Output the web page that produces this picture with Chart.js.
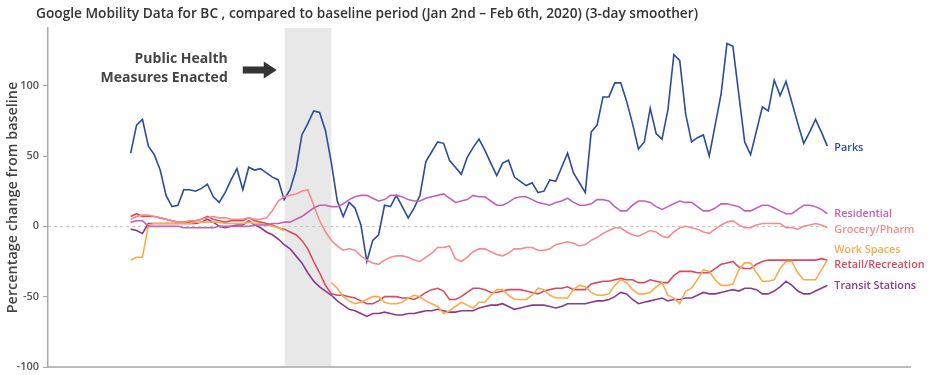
<!DOCTYPE html>
<html>
<head>
<meta charset="utf-8">
<script src="https://cdn.jsdelivr.net/npm/chart.js@4.4.1/dist/chart.umd.min.js"></script>
<style>
html, body { margin: 0; padding: 0; background: #fff; }
#wrap { width: 928px; height: 375px; }
</style>
</head>
<body>
<div id="wrap"><canvas id="chart" width="928" height="375"></canvas></div>
<script>
// daily values from Feb 15 2020 onward (3-day smoothed), % change from baseline
var startDate = "2020-02-15";
var seriesNames = ["Parks", "Residential", "Grocery/Pharm", "Work Spaces", "Retail/Recreation", "Transit Stations"];

var parks = [52,72,76,57,51,40,22,14,15,26, 26,25,27,30,21,17,24,33,41,26,
    42,40,41,38,35,33,19,26,40,65, 73,82,81,68,45,18,7,17,13,1,
    -25,-10,-6,15,14,22,14,6,13,22, 46,53,60,59,47,42,37,49,56,62,
    54,45,36,45,47,35,32,29,31,24, 25,33,32,42,52,38,31,24,67,72,
    92,92,102,102,89,73,55,60,84,66, 62,83,122,118,80,60,63,65,50,72,
    94,130,128,94,60,51,68,85,82,104, 93,103,88,73,59,67,76,67,57];

var residential = [3,4,4,0,0,0,0,0,0,-1, -1,-1,-1,-1,-1,0,0,0,0,0,
    0,1,1,1,2,2,3,3,5,7, 10,13,15,15,14,14,16,19,21,22,
    22,20,18,19,22,22,21,19,18,18, 20,21,22,23,20,17,18,19,22,21,
    21,18,15,15,17,20,21,21,19,17, 16,15,17,18,20,17,15,15,16,19,
    19,18,14,11,11,15,18,18,17,14, 12,14,16,18,17,17,14,11,11,13,
    16,16,15,14,11,11,13,15,15,13, 11,9,9,12,15,15,14,12,9];

var grocery = [5,7,8,8,7,6,5,4,3,3, 4,4,5,6,7,6,6,5,5,5,
    6,5,5,6,11,18,21,22,23,25, 26,15,4,-4,-10,-14,-17,-16,-17,-21,
    -24,-26,-27,-24,-22,-21,-21,-22,-24,-25, -22,-19,-15,-15,-14,-23,-25,-22,-18,-16,
    -16,-18,-20,-21,-19,-16,-16,-15,-15,-17, -17,-16,-13,-12,-11,-12,-14,-13,-10,-8,
    -5,-3,-1,-1,-4,-6,-7,-5,-3,-4, -7,-8,-4,-1,0,-1,-2,-4,-5,-2,
    1,3,4,1,-1,-1,1,2,2,2, 2,-1,-1,-2,0,1,2,1,-1];

var workSpaces = [-24,-22,-22,1,2,2,2,2,2,2, 2,3,3,3,3,3,2,2,2,2,
    3,2,2,1,0,-1,-3,null,null,null, null,null,null,null,-40,-44,-50,-53,-55,-54,
    -52,-50,-50,-54,-55,-55,-54,-51,-49,-50, -53,-55,-57,-62,-60,-57,-54,-56,-58,-54,
    -54,-49,-45,-45,-49,-52,-52,-52,-49,-44, -45,-49,-51,-51,-51,-45,-42,-43,-47,-49,
    -49,-48,-42,-38,-40,-45,-48,-48,-47,-43, -40,-49,-51,-55,-46,-44,-38,-31,-32,-38,
    -42,-42,-41,-31,-26,-26,-33,-39,-39,-38, -30,-25,-25,-33,-38,-38,-38,-31,-24];

var retail = [7,9,7,7,7,6,5,4,3,3, 3,4,5,7,5,4,3,4,4,4,
    6,4,3,2,1,-1,-2,-4,-6,-10, -16,-25,-33,-42,-48,-49,-49,-50,-51,-53,
    -55,-55,-53,-50,-50,-50,-51,-51,-52,-50, -47,-45,-44,-46,-52,-52,-50,-47,-44,-44,
    -45,-47,-47,-46,-45,-45,-45,-46,-47,-48, -46,-45,-44,-44,-43,-45,-45,-45,-41,-40,
    -39,-39,-38,-37,-38,-38,-40,-40,-38,-39, -40,-40,-35,-32,-32,-32,-33,-33,-33,-30,
    -27,-26,-25,-29,-30,-30,-27,-25,-24,-24, -24,-24,-24,-24,-24,-24,-24,-23,-24];

var transit = [-2,-3,-5,2,2,2,2,2,2,2, 2,2,3,5,3,0,-1,0,1,1,
    4,1,-1,-4,-6,-9,-13,-16,-21,-26, -33,-39,-43,-46,-49,-53,-56,-59,-60,-62,
    -64,-62,-62,-61,-62,-63,-63,-62,-62,-61, -60,-60,-59,-60,-61,-61,-60,-60,-60,-58,
    -57,-56,-56,-55,-57,-59,-58,-57,-56,-56, -56,-57,-58,-57,-55,-55,-55,-55,-54,-53,
    -53,-52,-50,-47,-48,-52,-55,-54,-53,-52, -51,-53,-52,-52,-51,-51,-49,-47,-48,-48,
    -47,-46,-45,-46,-44,-44,-45,-48,-48,-46, -43,-39,-42,-46,-48,-48,-46,-44,-42];

var yTicks = [-100, -50, 0, 50, 100];
// public health measures period, in days from start
var bandStart = 26.1, bandEnd = 34;

var allSeries = [parks, residential, grocery, workSpaces, retail, transit];
var colors = ["#2b4c9c", "#c462b7", "#f58b8c", "#fbab4a", "#d84a5f", "#8a3a8b"];
var labelShift = [2, 0, 2, -10, 5, 0];

var dates = [];
var d0 = new Date(startDate + "T00:00:00");
for (var i = 0; i < parks.length; i++) {
    var d = new Date(d0.getTime() + i * 86400000);
    dates.push(d.toISOString().slice(0, 10));
}

var datasets = [];
allSeries.forEach(function(values, k){
    datasets.push({
        label: seriesNames[k],
        data: values.map(function(v, i){ return {x: i, y: v}; }),
        borderColor: colors[k],
        borderWidth: 1.6,
        pointRadius: 0,
        tension: 0,
        spanGaps: false,
        fill: false
    });
});
// parks on top
datasets.push(datasets.shift());

var extras = {
    id: "extras",
    beforeDraw: function(chart){
        var ctx = chart.ctx, a = chart.chartArea;
        var x = chart.scales.x, y = chart.scales.y;
        ctx.save();
        ctx.fillStyle = "#e8e8e8";
        var x1 = x.getPixelForValue(bandStart), x2 = x.getPixelForValue(bandEnd);
        ctx.fillRect(x1, a.top, x2 - x1, a.bottom - a.top);
        // zero line
        ctx.strokeStyle = "#c8c8c8";
        ctx.lineWidth = 1;
        ctx.setLineDash([3, 3]);
        var y0 = Math.round(y.getPixelForValue(0)) + 0.5;
        ctx.beginPath();
        ctx.moveTo(a.left, y0);
        ctx.lineTo(x.getPixelForValue(parks.length - 1), y0);
        ctx.stroke();
        ctx.restore();
    },
    afterDatasetsDraw: function(chart){
        var ctx = chart.ctx;
        ctx.save();
        ctx.font = "600 10.8px 'Open Sans'";
        ctx.textBaseline = "middle";
        ctx.textAlign = "left";
        chart.data.datasets.forEach(function(ds, k){
            var meta = chart.getDatasetMeta(k);
            var idx = seriesNames.indexOf(ds.label);
            var last = meta.data[meta.data.length - 1];
            ctx.fillStyle = colors[idx];
            ctx.fillText(ds.label, last.x + 7, last.y + labelShift[idx]);
        });
        ctx.restore();
    },
    afterDraw: function(chart){
        var ctx = chart.ctx;
        var bx = chart.scales.x.getPixelForValue(bandStart);
        ctx.save();
        ctx.fillStyle = "#333";
        ctx.font = "600 13.7px 'Open Sans'";
        ctx.textBaseline = "middle";
        ctx.textAlign = "left";
        ctx.fillText("Google Mobility Data for BC , compared to baseline period (Jan 2nd \u2013 Feb 6th, 2020) (3-day smoother)", 36, 14);

        ctx.fillStyle = "#444";
        ctx.font = "700 14px 'Open Sans'";
        ctx.textAlign = "right";
        ctx.fillText("Public Health", bx - 57, 59);
        ctx.fillText("Measures Enacted", bx - 57, 78);

        // arrow
        var tip = bx - 8, cy = 70;
        ctx.fillStyle = "#333";
        ctx.beginPath();
        ctx.moveTo(tip - 34, cy - 3.5);
        ctx.lineTo(tip - 13, cy - 3.5);
        ctx.lineTo(tip - 13, cy - 8.5);
        ctx.lineTo(tip, cy);
        ctx.lineTo(tip - 13, cy + 8.5);
        ctx.lineTo(tip - 13, cy + 3.5);
        ctx.lineTo(tip - 34, cy + 3.5);
        ctx.closePath();
        ctx.fill();
        ctx.restore();
    }
};

var ctx = document.getElementById("chart").getContext("2d");
var chart = new Chart(ctx, {
    type: "line",
    data: { labels: dates, datasets: datasets },
    options: {
        responsive: false,
        animation: false,
        devicePixelRatio: 1,
        layout: { padding: { top: 28, right: 18, left: 0, bottom: 0 } },
        plugins: {
            legend: { display: false },
            tooltip: { enabled: false },
            title: { display: false }
        },
        scales: {
            x: {
                type: "linear",
                min: -14,
                max: 132,
                ticks: { display: false },
                grid: { display: false },
                border: { color: "#bbb", width: 2 },
                afterFit: function(s){ s.height = 8; s.paddingLeft = 0; s.paddingRight = 0; }
            },
            y: {
                min: -100,
                max: 141,
                afterBuildTicks: function(s){
                    s.ticks = yTicks.map(function(v){ return {value: v}; });
                },
                ticks: {
                    color: "#555",
                    font: { family: "Open Sans", size: 11, weight: "600" },
                    padding: 4
                },
                grid: { drawOnChartArea: false, drawTicks: true, tickLength: 5, color: "#aaa" },
                border: { color: "#aaa", width: 1.5 },
                title: {
                    display: true,
                    text: "Percentage change from baseline",
                    color: "#444",
                    font: { family: "Open Sans", size: 14.4, weight: "600" },
                    padding: { top: 4, bottom: 0 }
                },
                afterFit: function(s){ s.width = 48; s.paddingTop = 0; s.paddingBottom = 0; }
            }
        }
    },
    plugins: [extras]
});
</script>
</body>
</html>
